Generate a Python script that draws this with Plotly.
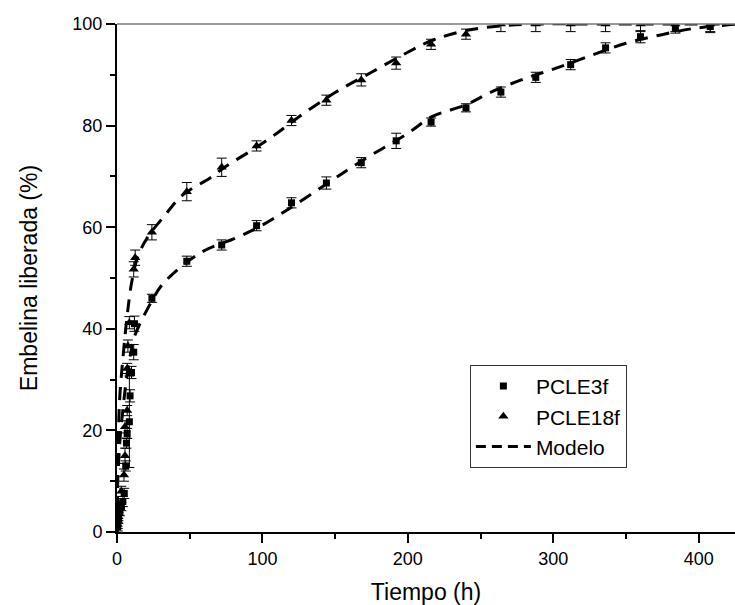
import plotly.graph_objects as go

# --- Data ---
t_3f = [0.5, 1, 2, 3, 4, 5, 6, 6.5, 7, 8.5, 9, 10, 11.5, 12, 24, 48, 72, 96, 120, 144, 168,
        192, 216, 240, 264, 288, 312, 336, 360, 384, 408]
y_3f = [1.0, 2.5, 4.0, 5.0, 6.0, 7.6, 13.0, 17.5, 19.4, 21.7, 26.8, 31.4, 35.4, 41.0, 46.0,
        53.3, 56.5, 60.3, 64.8, 68.7, 72.7, 77.0, 80.7, 83.5, 86.6, 89.5, 92.0, 95.3, 97.5,
        99.2, 99.5]
e_3f = [0.8, 0.8, 0.8, 0.8, 1.0, 1.0, 1.0, 1.0, 1.0, 9.0, 1.2, 1.2, 1.5, 1.5, 0.8,
        1.0, 1.0, 1.0, 1.0, 1.2, 1.0, 1.5, 0.8, 0.8, 1.0, 1.0, 1.0, 1.0, 1.2, 1.0, 1.2]

t_18f = [0.5, 1, 2, 3, 4.8, 5.5, 5.5, 7, 7, 7.5, 8.5, 11.5, 12.5, 24, 48, 72, 96, 120, 144,
         168, 192, 216, 240, 264, 288, 312, 336, 360, 384, 408]
y_18f = [1.5, 3.0, 5.3, 8.0, 11.2, 15.0, 20.7, 23.9, 32.2, 36.6, 41.2, 51.7, 54.0, 59.0,
         67.0, 71.8, 76.0, 81.0, 85.0, 89.0, 92.3, 96.0, 98.0, 100.0, 100.0, 100.0, 100.0,
         100.0, 100.0, 100.0]
e_18f = [0.8, 0.8, 0.8, 1.0, 1.2, 1.5, 1.2, 1.0, 1.0, 1.2, 1.2, 1.5, 1.5, 1.5,
         1.8, 1.8, 1.0, 1.0, 1.0, 1.2, 1.2, 1.0, 1.0, 1.5, 1.5, 1.5, 1.5,
         1.5, 1.5, 1.5]

tm_18f = [0, 0.5, 1, 2, 4, 6, 8, 10, 14, 21, 32, 45, 64, 75, 93, 110, 124, 150, 175, 199,
          217, 240, 263, 290, 330, 425]
ym_18f = [0, 14, 20, 27, 34, 40, 45, 49, 54, 58, 62, 66.3, 69.7, 72, 75.2, 78.5, 81.5,
          86.5, 90.5, 94.3, 96.8, 98.7, 99.6, 100, 100, 100]

tm_3f = [0, 0.5, 1, 2, 4, 6, 8, 10, 12, 24, 32, 57, 82, 98, 117, 144, 168, 199, 217, 240,
         258, 281, 302, 327, 350, 373, 396, 419, 425]
ym_3f = [0, 10, 13, 18, 24, 29, 33, 36, 38.5, 45.5, 49, 54.9, 57.9, 60.1, 63.4, 68.5,
         73.0, 78.3, 81.8, 84.1, 86.7, 89.3, 91.3, 93.9, 96.2, 97.8, 99.1, 99.8, 100]

x_ticks = [0, 100, 200, 300, 400]
y_ticks = [0, 20, 40, 60, 80, 100]

FONT = "Liberation Sans, Arial, sans-serif"
DASH = "13px,9px"

fig = go.Figure()

fig.add_trace(go.Scatter(
    x=tm_3f, y=ym_3f, mode="lines", showlegend=False, line_shape="spline",
    line=dict(color="black", width=3, dash=DASH), hoverinfo="skip"))
fig.add_trace(go.Scatter(
    x=tm_18f, y=ym_18f, mode="lines", showlegend=False, line_shape="spline",
    line=dict(color="black", width=3, dash=DASH), hoverinfo="skip"))

fig.add_trace(go.Scatter(
    x=t_3f, y=y_3f, mode="markers", name="PCLE3f",
    marker=dict(symbol="square", size=7, color="black"),
    error_y=dict(type="data", array=e_3f, color="black", thickness=1, width=5)))
fig.add_trace(go.Scatter(
    x=t_18f, y=y_18f, mode="markers", name="PCLE18f",
    marker=dict(symbol="triangle-up", size=9, color="black"),
    error_y=dict(type="data", array=e_18f, color="black", thickness=1, width=5)))
# legend entry for model
fig.add_trace(go.Scatter(
    x=[None], y=[None], mode="lines", name="Modelo",
    line=dict(color="black", width=3, dash="10px,6px")))

fig.update_layout(
    width=735, height=605,
    margin=dict(l=117, r=0, t=24, b=73, autoexpand=False),
    paper_bgcolor="white", plot_bgcolor="white",
    font=dict(family=FONT, color="black", size=18),
    showlegend=True,
    legend=dict(x=0.571, y=0.329, xanchor="left", yanchor="top",
                bordercolor="#333333", borderwidth=1, bgcolor="white",
                font=dict(size=21, family=FONT), tracegroupgap=0,
                itemwidth=55),
    xaxis=dict(range=[0, 425], tickvals=x_ticks, ticks="outside", ticklen=9,
               tickwidth=2, tickcolor="black", showline=True, linecolor="black",
               linewidth=2, showgrid=False, zeroline=False,
               minor=dict(ticks="outside", ticklen=5, tickwidth=2, dtick=50,
                          tickcolor="black", showgrid=False),
               tickfont=dict(size=18),
               title=dict(text="Tiempo (h)", font=dict(size=23), standoff=16)),
    yaxis=dict(range=[0, 100], tickvals=y_ticks, ticks="outside", ticklen=9,
               tickwidth=2, tickcolor="black", showline=True, linecolor="black",
               linewidth=2, showgrid=False, zeroline=False,
               minor=dict(ticks="outside", ticklen=5, tickwidth=2, dtick=10,
                          tickcolor="black", showgrid=False),
               tickfont=dict(size=18),
               title=dict(text="Embelina liberada (%)", font=dict(size=23), standoff=28)),
    shapes=[dict(type="line", xref="paper", yref="paper", x0=0, x1=1, y0=1, y1=1,
                 line=dict(color="#777777", width=1.5))],
)

fig.write_html("out.html", config={"displayModeBar": False},
               post_script="document.body.style.margin='0px';")
